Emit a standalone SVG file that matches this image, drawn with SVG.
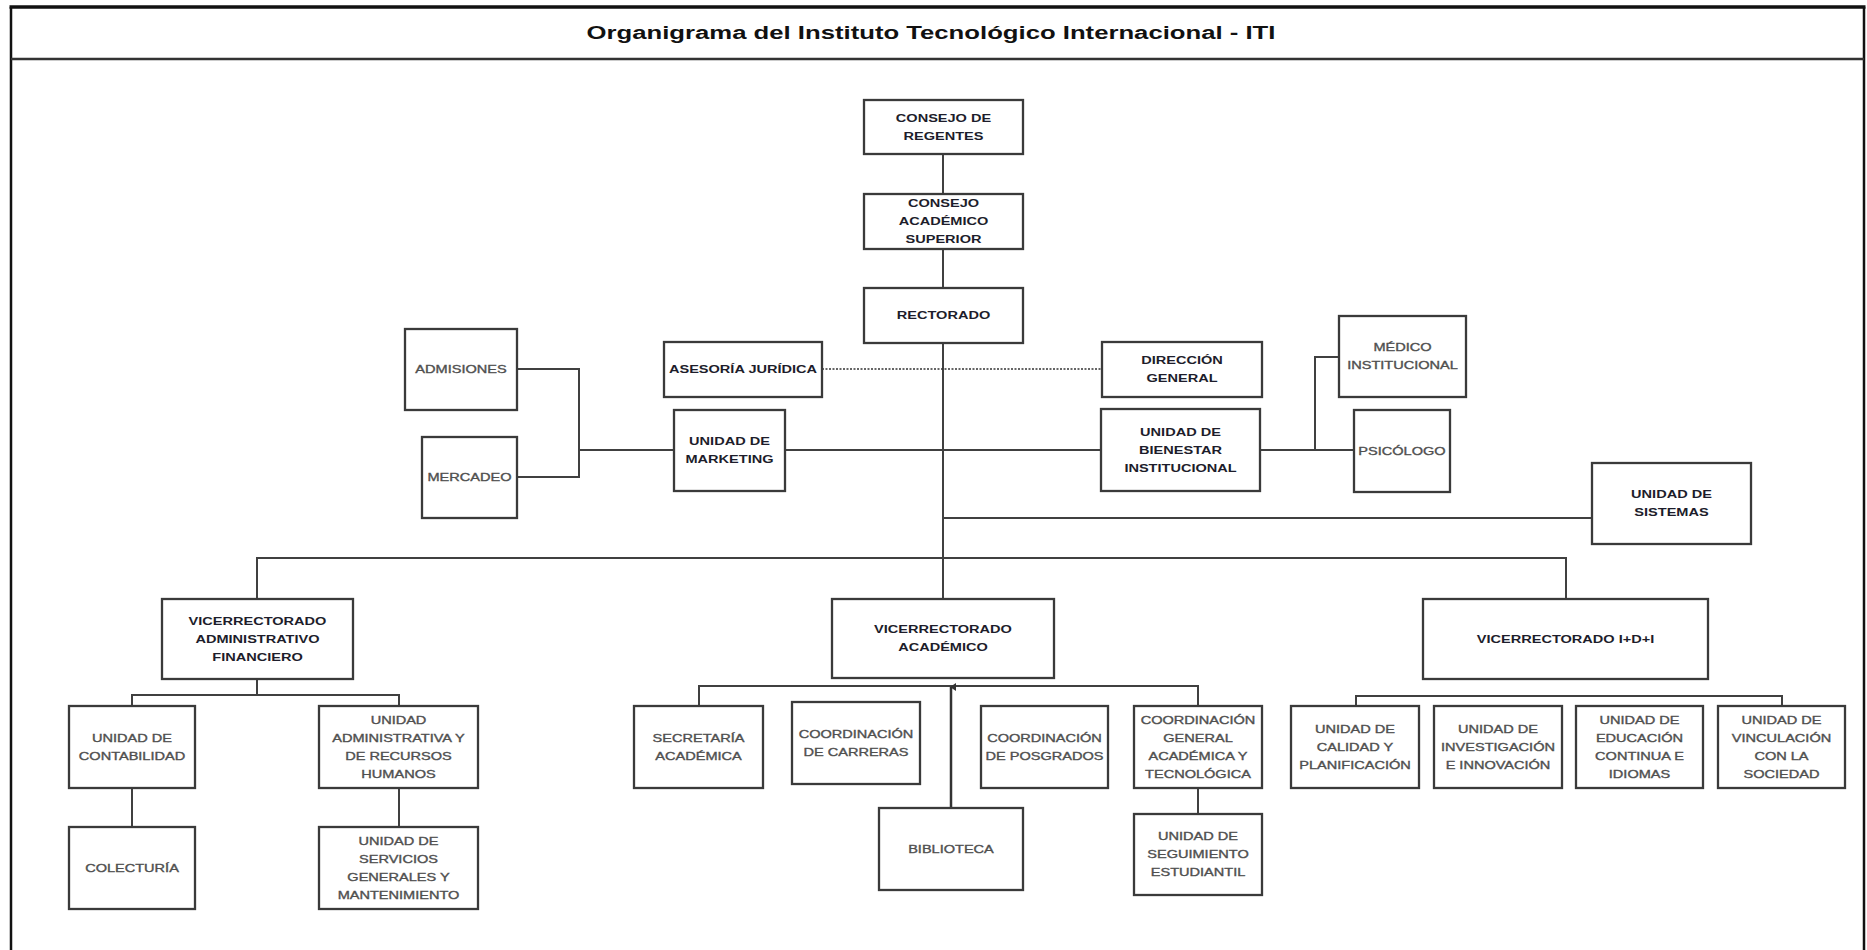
<svg xmlns="http://www.w3.org/2000/svg" width="1867" height="950" viewBox="0 0 1867 950">
<style>
.box{fill:#fff;stroke:#3a3a3a;stroke-width:2.3}
.ln{fill:none;stroke:#404040;stroke-width:2}
.dot{fill:none;stroke:#333;stroke-width:1.5;stroke-dasharray:2 1.5}
text{font-family:"Liberation Sans",Arial,sans-serif;font-size:11.2px;text-anchor:middle}
.b{font-weight:bold;fill:#1d1d2b}
.g{font-weight:normal;fill:#4f4f4f;stroke:#4f4f4f;stroke-width:0.35}
.title{font-size:18.5px;font-weight:bold;fill:#111}
</style>
<defs>
<marker id="arr" markerWidth="8" markerHeight="8" refX="4" refY="1" orient="auto-start-reverse" markerUnits="userSpaceOnUse" viewBox="0 0 8 8">
<path d="M0,6 L4,0 L8,6 Z" fill="#333"/>
</marker>
</defs>
<rect width="1867" height="950" fill="#fff"/>
<g id="frame">
<line x1="11" y1="7" x2="11" y2="950" stroke="#111" stroke-width="2.5"/>
<line x1="1864" y1="7" x2="1864" y2="950" stroke="#111" stroke-width="2.5"/>
<line x1="9.5" y1="7" x2="1865.5" y2="7" stroke="#111" stroke-width="3.5"/>
<line x1="11" y1="59" x2="1864" y2="59" stroke="#333" stroke-width="2.5"/>
<text class="title" transform="translate(931 0) scale(1.39 1)" x="0" y="39.5">Organigrama del Instituto Tecnológico Internacional - ITI</text>
</g>
<g id="connectors">
<path class="ln" d="M943,154 V194 M943,249 V288 M943,343 V599"/>
<path class="dot" d="M822,369 H1102"/>
<path class="ln" d="M517,369 H579 V477 H517 M579,450 H674 M785,450 H1101"/>
<path class="ln" d="M1260,450 H1354 M1315,450 V357 H1339"/>
<path class="ln" d="M943,518 H1592"/>
<path class="ln" d="M257,599 V558 H1566 V599"/>
<path class="ln" d="M257,679 V695 M132,706 V695 H399 V706 M132,788 V827 M399,788 V827"/>
<path class="ln" d="M699,706 V686 H1198 V706 M1198,788 V814"/>
<path class="ln" d="M1356,706 V696 H1782 V706"/>
<path fill="none" stroke="#333" stroke-width="2.5" d="M951,808 V687" marker-end="url(#arr)"/>
</g>
<g id="n-regentes"><rect class="box" x="864" y="100" width="159" height="54"/><text class="b" transform="translate(943.5 0) scale(1.3 1)"><tspan x="0" y="122">CONSEJO DE</tspan><tspan x="0" y="140">REGENTES</tspan></text></g>
<g id="n-cas"><rect class="box" x="864" y="194" width="159" height="55"/><text class="b" transform="translate(943.5 0) scale(1.3 1)"><tspan x="0" y="207.5">CONSEJO</tspan><tspan x="0" y="225.5">ACADÉMICO</tspan><tspan x="0" y="243.5">SUPERIOR</tspan></text></g>
<g id="n-rectorado"><rect class="box" x="864" y="288" width="159" height="55"/><text class="b" transform="translate(943.5 0) scale(1.3 1)"><tspan x="0" y="319.5">RECTORADO</tspan></text></g>
<g id="n-asesoria"><rect class="box" x="664" y="342" width="158" height="55"/><text class="b" transform="translate(743 0) scale(1.3 1)"><tspan x="0" y="373.5">ASESORÍA JURÍDICA</tspan></text></g>
<g id="n-direccion"><rect class="box" x="1102" y="342" width="160" height="55"/><text class="b" transform="translate(1182 0) scale(1.3 1)"><tspan x="0" y="364.5">DIRECCIÓN</tspan><tspan x="0" y="382.5">GENERAL</tspan></text></g>
<g id="n-admisiones"><rect class="box" x="405" y="329" width="112" height="81"/><text class="g" transform="translate(461 0) scale(1.3 1)"><tspan x="0" y="373.5">ADMISIONES</tspan></text></g>
<g id="n-mercadeo"><rect class="box" x="422" y="437" width="95" height="81"/><text class="g" transform="translate(469.5 0) scale(1.3 1)"><tspan x="0" y="481.5">MERCADEO</tspan></text></g>
<g id="n-marketing"><rect class="box" x="674" y="410" width="111" height="81"/><text class="b" transform="translate(729.5 0) scale(1.3 1)"><tspan x="0" y="445.5">UNIDAD DE</tspan><tspan x="0" y="463.5">MARKETING</tspan></text></g>
<g id="n-bienestar"><rect class="box" x="1101" y="409" width="159" height="82"/><text class="b" transform="translate(1180.5 0) scale(1.3 1)"><tspan x="0" y="436">UNIDAD DE</tspan><tspan x="0" y="454">BIENESTAR</tspan><tspan x="0" y="472">INSTITUCIONAL</tspan></text></g>
<g id="n-medico"><rect class="box" x="1339" y="316" width="127" height="81"/><text class="g" transform="translate(1402.5 0) scale(1.3 1)"><tspan x="0" y="351.5">MÉDICO</tspan><tspan x="0" y="369.5">INSTITUCIONAL</tspan></text></g>
<g id="n-psicologo"><rect class="box" x="1354" y="410" width="96" height="82"/><text class="g" transform="translate(1402 0) scale(1.3 1)"><tspan x="0" y="455">PSICÓLOGO</tspan></text></g>
<g id="n-sistemas"><rect class="box" x="1592" y="463" width="159" height="81"/><text class="b" transform="translate(1671.5 0) scale(1.3 1)"><tspan x="0" y="498.5">UNIDAD DE</tspan><tspan x="0" y="516.5">SISTEMAS</tspan></text></g>
<g id="n-vaf"><rect class="box" x="162" y="599" width="191" height="80"/><text class="b" transform="translate(257.5 0) scale(1.3 1)"><tspan x="0" y="625">VICERRECTORADO</tspan><tspan x="0" y="643">ADMINISTRATIVO</tspan><tspan x="0" y="661">FINANCIERO</tspan></text></g>
<g id="n-va"><rect class="box" x="832" y="599" width="222" height="79"/><text class="b" transform="translate(943 0) scale(1.3 1)"><tspan x="0" y="633.5">VICERRECTORADO</tspan><tspan x="0" y="651.5">ACADÉMICO</tspan></text></g>
<g id="n-vidi"><rect class="box" x="1423" y="599" width="285" height="80"/><text class="b" transform="translate(1565.5 0) scale(1.3 1)"><tspan x="0" y="643">VICERRECTORADO I+D+I</tspan></text></g>
<g id="n-contabilidad"><rect class="box" x="69" y="706" width="126" height="82"/><text class="g" transform="translate(132 0) scale(1.3 1)"><tspan x="0" y="742">UNIDAD DE</tspan><tspan x="0" y="760">CONTABILIDAD</tspan></text></g>
<g id="n-adminrrhh"><rect class="box" x="319" y="706" width="159" height="82"/><text class="g" transform="translate(398.5 0) scale(1.3 1)"><tspan x="0" y="724">UNIDAD</tspan><tspan x="0" y="742">ADMINISTRATIVA Y</tspan><tspan x="0" y="760">DE RECURSOS</tspan><tspan x="0" y="778">HUMANOS</tspan></text></g>
<g id="n-colecturia"><rect class="box" x="69" y="827" width="126" height="82"/><text class="g" transform="translate(132 0) scale(1.3 1)"><tspan x="0" y="872">COLECTURÍA</tspan></text></g>
<g id="n-servicios"><rect class="box" x="319" y="827" width="159" height="82"/><text class="g" transform="translate(398.5 0) scale(1.3 1)"><tspan x="0" y="845">UNIDAD DE</tspan><tspan x="0" y="863">SERVICIOS</tspan><tspan x="0" y="881">GENERALES Y</tspan><tspan x="0" y="899">MANTENIMIENTO</tspan></text></g>
<g id="n-secretaria"><rect class="box" x="634" y="706" width="129" height="82"/><text class="g" transform="translate(698.5 0) scale(1.3 1)"><tspan x="0" y="742">SECRETARÍA</tspan><tspan x="0" y="760">ACADÉMICA</tspan></text></g>
<g id="n-carreras"><rect class="box" x="792" y="702" width="128" height="82"/><text class="g" transform="translate(856 0) scale(1.3 1)"><tspan x="0" y="738">COORDINACIÓN</tspan><tspan x="0" y="756">DE CARRERAS</tspan></text></g>
<g id="n-biblioteca"><rect class="box" x="879" y="808" width="144" height="82"/><text class="g" transform="translate(951 0) scale(1.3 1)"><tspan x="0" y="853">BIBLIOTECA</tspan></text></g>
<g id="n-posgrados"><rect class="box" x="981" y="706" width="127" height="82"/><text class="g" transform="translate(1044.5 0) scale(1.3 1)"><tspan x="0" y="742">COORDINACIÓN</tspan><tspan x="0" y="760">DE POSGRADOS</tspan></text></g>
<g id="n-coordgeneral"><rect class="box" x="1134" y="706" width="128" height="82"/><text class="g" transform="translate(1198 0) scale(1.3 1)"><tspan x="0" y="724">COORDINACIÓN</tspan><tspan x="0" y="742">GENERAL</tspan><tspan x="0" y="760">ACADÉMICA Y</tspan><tspan x="0" y="778">TECNOLÓGICA</tspan></text></g>
<g id="n-seguimiento"><rect class="box" x="1134" y="814" width="128" height="81"/><text class="g" transform="translate(1198 0) scale(1.3 1)"><tspan x="0" y="840.5">UNIDAD DE</tspan><tspan x="0" y="858.5">SEGUIMIENTO</tspan><tspan x="0" y="876.5">ESTUDIANTIL</tspan></text></g>
<g id="n-calidad"><rect class="box" x="1291" y="706" width="128" height="82"/><text class="g" transform="translate(1355 0) scale(1.3 1)"><tspan x="0" y="733">UNIDAD DE</tspan><tspan x="0" y="751">CALIDAD Y</tspan><tspan x="0" y="769">PLANIFICACIÓN</tspan></text></g>
<g id="n-investigacion"><rect class="box" x="1434" y="706" width="128" height="82"/><text class="g" transform="translate(1498 0) scale(1.3 1)"><tspan x="0" y="733">UNIDAD DE</tspan><tspan x="0" y="751">INVESTIGACIÓN</tspan><tspan x="0" y="769">E INNOVACIÓN</tspan></text></g>
<g id="n-educacion"><rect class="box" x="1576" y="706" width="127" height="82"/><text class="g" transform="translate(1639.5 0) scale(1.3 1)"><tspan x="0" y="724">UNIDAD DE</tspan><tspan x="0" y="742">EDUCACIÓN</tspan><tspan x="0" y="760">CONTINUA E</tspan><tspan x="0" y="778">IDIOMAS</tspan></text></g>
<g id="n-vinculacion"><rect class="box" x="1718" y="706" width="127" height="82"/><text class="g" transform="translate(1781.5 0) scale(1.3 1)"><tspan x="0" y="724">UNIDAD DE</tspan><tspan x="0" y="742">VINCULACIÓN</tspan><tspan x="0" y="760">CON LA</tspan><tspan x="0" y="778">SOCIEDAD</tspan></text></g>
</svg>
